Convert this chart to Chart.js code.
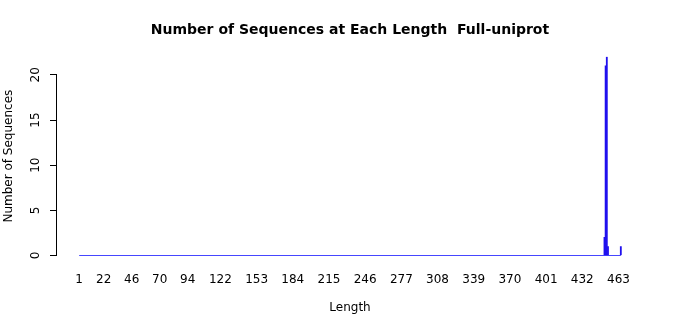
<!DOCTYPE html>
<html>
<head>
<meta charset="utf-8">
<script src="https://cdn.jsdelivr.net/npm/chart.js@4/dist/chart.umd.min.js"></script>
<style>
    body { margin: 0; background: #ffffff; }
    #chart { display: block; }
</style>
</head>
<body>
<canvas id="chart" width="700" height="315"></canvas>
<script>
// Data
const lengths = [451, 452, 453, 454, 465];
const counts = [2, 21, 22, 1, 1];
const lengthRange = [1, 465];
const xTickLabels = [1, 22, 46, 70, 94, 122, 153, 184, 215, 246, 277, 308, 339, 370, 401, 432, 463];
const yTickLabels = [0, 5, 10, 15, 20];

const barColor = '#2010ee';
const baseColor = '#4646ff';
const fontFamily = '"DejaVu Sans", sans-serif';

// y axis line only between first and last tick, R style
const yAxisLine = {
    id: 'yAxisLine',
    afterDraw(chart) {
        const y = chart.scales.y;
        const ctx = chart.ctx;
        const top = y.getPixelForValue(yTickLabels[yTickLabels.length - 1]);
        const bottom = y.getPixelForValue(yTickLabels[0]);
        ctx.save();
        ctx.strokeStyle = '#000000';
        ctx.lineWidth = 1;
        ctx.beginPath();
        ctx.moveTo(Math.round(y.right) - 0.5, top);
        ctx.lineTo(Math.round(y.right) - 0.5, bottom);
        ctx.stroke();
        ctx.restore();
    }
};

const ctx = document.getElementById('chart').getContext('2d');
new Chart(ctx, {
    type: 'bar',
    data: {
        datasets: [
            {
                type: 'bar',
                data: lengths.map((l, i) => ({ x: l, y: counts[i] })),
                backgroundColor: barColor,
                borderWidth: 0,
                barPercentage: 1,
                categoryPercentage: 1,
                order: 1
            },
            {
                type: 'line',
                data: lengthRange.map(l => ({ x: l, y: 0 })),
                borderColor: baseColor,
                backgroundColor: baseColor,
                borderWidth: 1.2,
                pointRadius: 0,
                fill: false,
                clip: false,
                order: 2
            }
        ]
    },
    options: {
        responsive: false,
        animation: false,
        layout: {
            padding: { left: 2, right: 57, top: 0, bottom: 0 }
        },
        plugins: {
            legend: { display: false },
            tooltip: { enabled: false },
            title: {
                display: true,
                fullSize: false,
                text: 'Number of Sequences at Each Length  Full-uniprot',
                color: '#000000',
                font: { family: fontFamily, size: 14, weight: 'bold' },
                padding: { top: 22, bottom: 18 }
            }
        },
        scales: {
            x: {
                type: 'linear',
                offset: false,
                min: -18,
                max: 484,
                afterBuildTicks: axis => {
                    axis.ticks = xTickLabels.map(v => ({ value: v }));
                },
                afterFit: axis => {
                    axis.height = 59.5;
                },
                grid: { display: false, drawTicks: false },
                border: { display: false },
                ticks: {
                    color: '#000000',
                    font: { family: fontFamily, size: 12 },
                    padding: 17,
                    maxRotation: 0,
                    autoSkip: false,
                    callback: v => v
                },
                title: {
                    display: true,
                    text: 'Length',
                    color: '#000000',
                    font: { family: fontFamily, size: 12 },
                    padding: { top: 0, bottom: 0 }
                }
            },
            y: {
                min: 0,
                max: 22,
                afterBuildTicks: axis => {
                    axis.ticks = yTickLabels.map(v => ({ value: v }));
                },
                afterFit: axis => {
                    axis.width = 55;
                },
                grid: {
                    drawOnChartArea: false,
                    drawTicks: true,
                    tickLength: 7,
                    color: '#000000'
                },
                border: { display: false },
                ticks: {
                    color: '#000000',
                    font: { family: fontFamily, size: 12 },
                    padding: 6,
                    crossAlign: 'center',
                    minRotation: 90,
                    maxRotation: 90
                },
                title: {
                    display: true,
                    text: 'Number of Sequences',
                    color: '#000000',
                    font: { family: fontFamily, size: 12 },
                    padding: { top: 0, bottom: 0 }
                }
            }
        }
    },
    plugins: [yAxisLine]
});
</script>
</body>
</html>
